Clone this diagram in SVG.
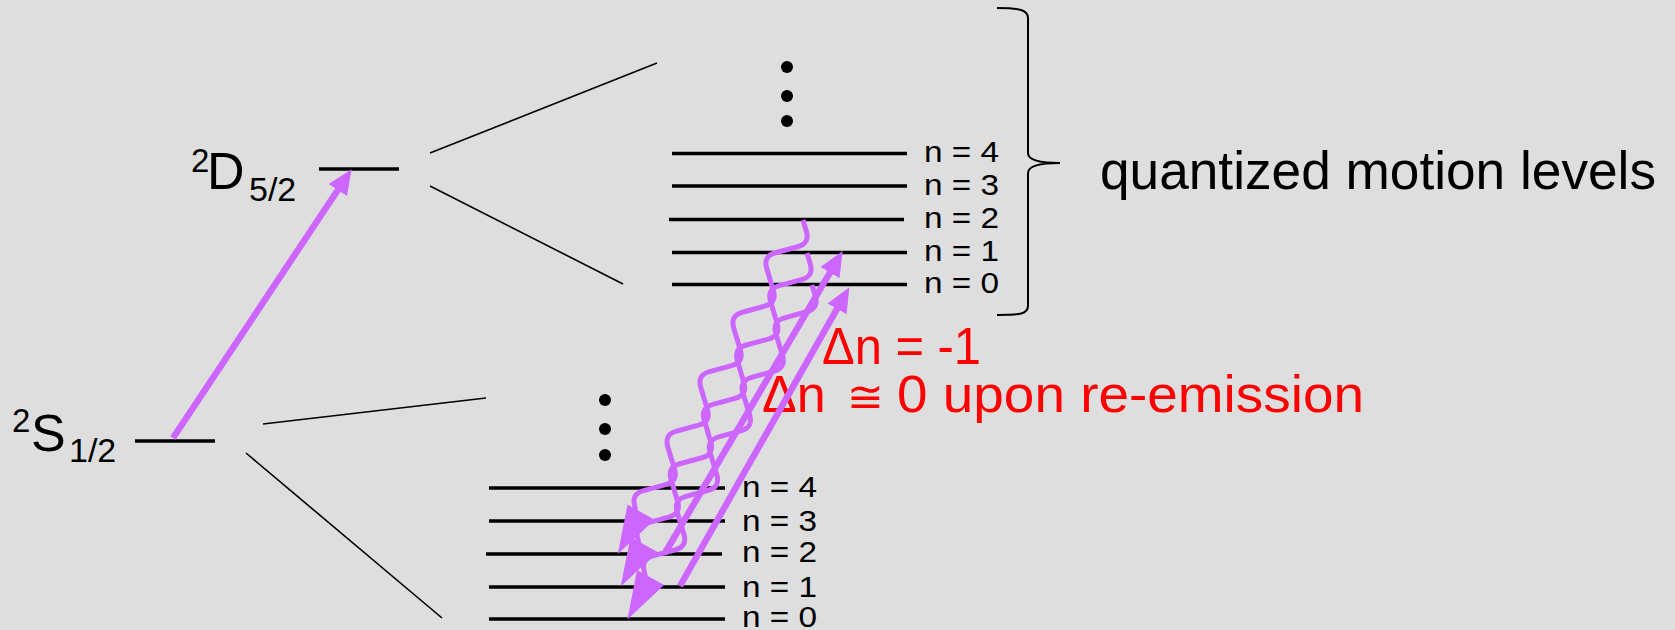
<svg xmlns="http://www.w3.org/2000/svg" xmlns:xlink="http://www.w3.org/1999/xlink" width="1675" height="630" viewBox="0 0 1675 630">
  <style>
    .lvl { stroke: #000; stroke-width: 3.4; fill: none; }
    .thin { stroke: #000; stroke-width: 1.6; fill: none; }
    .dot { fill: #000; }
    .brace { stroke: #000; stroke-width: 2; fill: none; }
    .txt { font-family: "Liberation Sans", Arial, sans-serif; fill: #000; }
    .red { font-family: "Liberation Sans", Arial, sans-serif; fill: #ff0000; }
    .beam { stroke: #cc66ff; stroke-width: 6.5; fill: none; }
    .wave { stroke: #cc66ff; stroke-width: 5; fill: none; stroke-linejoin: round; }
    .head { fill: #cc66ff; }
  </style>
  <defs>
    <marker id="arrow" markerUnits="userSpaceOnUse" markerWidth="26" markerHeight="24" viewBox="0 0 26 24" refX="4" refY="12" orient="auto">
      <path d="M0 1 L25 12 L0 23 Z" fill="#cc66ff"/>
    </marker>
    <!-- photon: rounded zigzag along the local x axis, ending in a long arrowhead -->
    <g id="photon">
      <path class="wave" d="M0 0 L8 -8.2 Q17 -17.5 26 -8.2 L42 8.2 Q51 17.5 60 8.2 L76 -8.2 Q85 -17.5 94 -8.2 L110 8.2 Q119 17.5 128 8.2 L144 -8.2 Q153 -17.5 162 -8.2 L178 8.2 Q187 17.5 196 8.2 L212 -8.2 Q221 -17.5 230 -8.2 L246 8.2 Q255 17.5 264 8.2 L280 -8.2 Q289 -17.5 298 -8.2 L314 8.2 Q323 17.5 332 8.2 L342 0"/>
      <polygon class="head" points="334,-15.5 382,0 334,15.5"/>
    </g>
  </defs>

  <rect width="1675" height="630" fill="#dedede"/>

  <!-- electronic levels -->
  <g id="level-S">
    <line class="lvl" x1="135" y1="441" x2="215" y2="441"/>
    <text class="txt" x="12" y="432" font-size="33">2</text>
    <text class="txt" x="31" y="451" font-size="52">S</text>
    <text class="txt" x="69" y="462" font-size="34">1/2</text>
  </g>
  <g id="level-D">
    <line class="lvl" x1="319" y1="169" x2="399" y2="169"/>
    <text class="txt" x="191" y="172" font-size="33">2</text>
    <text class="txt" x="207" y="189" font-size="52">D</text>
    <text class="txt" x="249" y="201" font-size="34">5/2</text>
  </g>

  <!-- fan-out lines to the motional ladders -->
  <g id="fan-lines">
    <line class="thin" x1="430" y1="153" x2="657" y2="63"/>
    <line class="thin" x1="430" y1="186" x2="623" y2="284"/>
    <line class="thin" x1="263" y1="424" x2="486" y2="398"/>
    <line class="thin" x1="246" y1="453" x2="442" y2="618"/>
  </g>

  <!-- upper motional ladder -->
  <g id="ladder-upper">
    <circle class="dot" cx="787" cy="67" r="6"/>
    <circle class="dot" cx="787" cy="96" r="6"/>
    <circle class="dot" cx="787" cy="121" r="6"/>
    <line class="lvl" x1="672" y1="153.5" x2="907" y2="153.5"/>
    <line class="lvl" x1="672" y1="186" x2="907" y2="186"/>
    <line class="lvl" x1="669" y1="219.5" x2="904" y2="219.5"/>
    <line class="lvl" x1="672" y1="252.5" x2="907" y2="252.5"/>
    <line class="lvl" x1="672" y1="284.5" x2="907" y2="284.5"/>
    <text class="txt" x="924" y="162" font-size="29" textLength="75" lengthAdjust="spacingAndGlyphs">n = 4</text>
    <text class="txt" x="924" y="195" font-size="29" textLength="75" lengthAdjust="spacingAndGlyphs">n = 3</text>
    <text class="txt" x="924" y="228" font-size="29" textLength="75" lengthAdjust="spacingAndGlyphs">n = 2</text>
    <text class="txt" x="924" y="261" font-size="29" textLength="75" lengthAdjust="spacingAndGlyphs">n = 1</text>
    <text class="txt" x="924" y="293" font-size="29" textLength="75" lengthAdjust="spacingAndGlyphs">n = 0</text>
  </g>

  <!-- lower motional ladder -->
  <g id="ladder-lower">
    <circle class="dot" cx="605" cy="400" r="6"/>
    <circle class="dot" cx="605" cy="429" r="6"/>
    <circle class="dot" cx="605" cy="455" r="6"/>
    <line class="lvl" x1="489" y1="488" x2="725" y2="488"/>
    <line class="lvl" x1="489" y1="521" x2="725" y2="521"/>
    <line class="lvl" x1="486" y1="554" x2="722" y2="554"/>
    <line class="lvl" x1="489" y1="587" x2="725" y2="587"/>
    <line class="lvl" x1="489" y1="619" x2="725" y2="619"/>
    <text class="txt" x="742" y="497" font-size="29" textLength="75" lengthAdjust="spacingAndGlyphs">n = 4</text>
    <text class="txt" x="742" y="531" font-size="29" textLength="75" lengthAdjust="spacingAndGlyphs">n = 3</text>
    <text class="txt" x="742" y="562" font-size="29" textLength="75" lengthAdjust="spacingAndGlyphs">n = 2</text>
    <text class="txt" x="742" y="597" font-size="29" textLength="75" lengthAdjust="spacingAndGlyphs">n = 1</text>
    <text class="txt" x="742" y="627" font-size="29" textLength="75" lengthAdjust="spacingAndGlyphs">n = 0</text>
  </g>

  <!-- brace and caption -->
  <g id="brace-label">
    <path class="brace" d="M997 8 C1020 8 1028 10 1028 18 L1028 153 C1028 160 1040 163 1060 163 C1040 163 1028 166 1028 173 L1028 306 C1028 314 1020 315 997 315"/>
    <text class="txt" x="1100" y="189" font-size="54" textLength="556" lengthAdjust="spacingAndGlyphs">quantized motion levels</text>
  </g>

  <!-- sideband annotation (sits beneath the transition arrows) -->
  <g id="annotation">
    <text class="red" x="822" y="364" font-size="52" textLength="159" lengthAdjust="spacingAndGlyphs">Δn = -1</text>
    <text class="red" y="412" font-size="52"><tspan x="762">Δn</tspan><tspan x="847" font-size="44">≅</tspan><tspan x="897" textLength="467" lengthAdjust="spacingAndGlyphs">0 upon re-emission</tspan></text>
  </g>

  <!-- transitions -->
  <g id="transitions">
    <line class="beam" x1="173" y1="438" x2="340" y2="186.7" marker-end="url(#arrow)"/>
    <use xlink:href="#photon" href="#photon" transform="translate(803,220) rotate(119)"/>
    <use xlink:href="#photon" href="#photon" transform="translate(807,253) rotate(119.2)"/>
    <use xlink:href="#photon" href="#photon" transform="translate(812,285) rotate(118.9)"/>
    <line class="beam" x1="665" y1="553" x2="832" y2="269.2" marker-end="url(#arrow)"/>
    <line class="beam" x1="680" y1="586" x2="839" y2="305.4" marker-end="url(#arrow)"/>
  </g>
</svg>
